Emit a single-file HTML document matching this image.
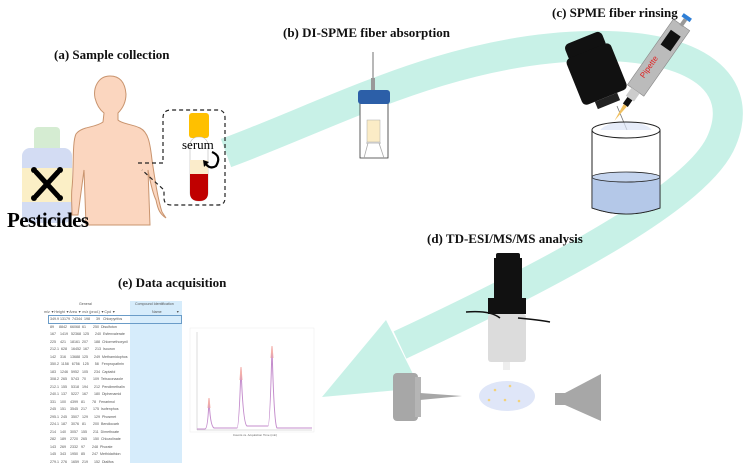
<!DOCTYPE html>
<html><head><meta charset="utf-8"><style>
body{margin:0;background:#fff;width:753px;height:472px;overflow:hidden;position:relative;font-family:"Liberation Serif",serif}
.lb{position:absolute;font-weight:bold;font-size:13px;color:#111;white-space:nowrap}
</style></head><body>
<svg width="753" height="472" style="position:absolute;left:0;top:0">
<path d="M226,153 C 330,115 450,48 590,46 C 700,44 745,85 722,140 C 700,195 560,270 400,345" fill="none" stroke="#c8f1e7" stroke-width="30"/>
<polygon points="322,397 386,320 420,388" fill="#c8f1e7"/>

<rect x="34" y="127" width="26" height="30" rx="4" fill="#d5ecd2"/>
<rect x="22" y="148" width="50" height="75" rx="8" fill="#d3dcf3"/>
<rect x="22" y="168" width="50" height="34" fill="#fbefc6"/>
<g stroke="#000" stroke-width="5" stroke-linecap="round"><line x1="36" y1="172" x2="58" y2="196"/><line x1="58" y1="172" x2="36" y2="196"/></g>
<g fill="#000"><circle cx="34" cy="170" r="3"/><circle cx="60" cy="170" r="3"/><circle cx="34" cy="198" r="3"/><circle cx="60" cy="198" r="3"/></g>

<path d="M110,76 C98,76 93,88 95,98 C97,106 100,110 104,113 L103,122 C95,128 82,126 76,134 C72,142 74,170 72,188 C71,196 72,205 72,215 L78,215 C80,200 82,185 84,170 L86,225 L150,225 L148,170 C150,180 152,192 156,200 C158,210 160,214 166,218 L162,212 C158,200 155,180 152,160 C150,142 148,132 140,128 C132,124 122,124 118,120 L118,113 C123,108 126,102 126,94 C125,82 120,76 110,76 Z" fill="#fbd6bf" stroke="#c9946e" stroke-width="1"/>

<path d="M138,163 L163,163 L163,118 Q163,110 171,110 L218,110 Q225,110 225,118 L225,198 Q225,205 218,205 L171,205 Q164,205 164,198 L164,190 L142,170" fill="none" stroke="#222" stroke-width="1.2" stroke-dasharray="4,3"/>
<rect x="189" y="113" width="20" height="25" rx="3" fill="#ffc000"/>
<rect x="190" y="137" width="18" height="64" rx="8" fill="#fff" stroke="#bbb" stroke-width="0.6"/>
<path d="M190,160 L208,160 L208,174 L190,174 Z" fill="#fbeccb"/>
<path d="M190,174 L208,174 L208,193 Q208,201 199,201 Q190,201 190,193 Z" fill="#c00000"/>
<path d="M212,152 Q222,156 216,166 Q210,170 205,163" fill="none" stroke="#000" stroke-width="2.2"/>
<polygon points="203,160 209,162 204,167" fill="#000"/>

<line x1="373" y1="52" x2="373" y2="142" stroke="#888" stroke-width="1.2"/>
<rect x="371" y="78" width="4" height="12" fill="#999"/>
<path d="M360,103 L388,103 L388,158 L360,158 Z" fill="#fff" stroke="#333" stroke-width="0.8"/>
<rect x="358" y="90" width="32" height="14" rx="3" fill="#2c5fa8"/>
<rect x="367" y="120" width="13" height="22" fill="#fbecc6" stroke="#aaa" stroke-width="0.5"/>
<path d="M366,143 L381,143 M368,143 L364,158 M379,143 L384,158" stroke="#aaa" stroke-width="0.8"/>

<g transform="translate(597,75) rotate(-22)">
<rect x="-20" y="-40" width="40" height="18" rx="5" fill="#111"/>
<rect x="-24" y="-26" width="48" height="50" rx="5" fill="#111"/>
<rect x="-12" y="24" width="24" height="8" fill="#222"/>
</g>
<line x1="617" y1="106" x2="627" y2="130" stroke="#777" stroke-width="0.8"/>
<g transform="translate(650,70) rotate(35)">
<rect x="-10" y="-55" width="20" height="80" fill="#bbb" stroke="#888" stroke-width="0.6"/>
<rect x="-6" y="-45" width="12" height="18" fill="#111"/>
<rect x="-2" y="-62" width="4" height="8" fill="#999"/>
<rect x="-5" y="-66" width="10" height="4" fill="#2f7fd6"/>
<rect x="-5" y="25" width="10" height="10" fill="#ccc"/>
<rect x="-3" y="35" width="6" height="8" fill="#111"/>
<polygon points="-2,43 2,43 0,62" fill="#f0c060"/>
<text x="2" y="0" transform="rotate(-90)" font-family="Liberation Sans,sans-serif" font-size="8" fill="#e02020" text-anchor="middle">Pipette</text>
</g>
<ellipse cx="626" cy="132" rx="26" ry="10" fill="#dbe4f7" opacity="0.7"/>
<path d="M592,130 L592,208 Q626,220 660,208 L660,130" fill="#fff" stroke="#222" stroke-width="1"/>
<path d="M592,177 Q626,187 660,177 L660,208 Q626,220 592,208 Z" fill="#b4c8e8" stroke="#222" stroke-width="0.8"/>
<ellipse cx="626" cy="177" rx="34" ry="5" fill="#c4d4ee" stroke="#222" stroke-width="0.8"/>
<ellipse cx="626" cy="130" rx="34" ry="8" fill="none" stroke="#222" stroke-width="1"/>

<rect x="496" y="253" width="24" height="8" rx="2" fill="#111"/>
<rect x="494" y="258" width="28" height="44" fill="#111"/>
<rect x="488" y="298" width="38" height="16" fill="#111"/>
<rect x="488" y="314" width="38" height="48" rx="3" fill="#dcdcdc"/>
<rect x="503" y="362" width="7" height="8" fill="#eee"/>
<path d="M466,312 Q490,310 500,318 M518,318 Q540,320 550,322" stroke="#111" stroke-width="1.5" fill="none"/>
<ellipse cx="507" cy="396" rx="28" ry="15" fill="#dfe6f8"/>
<g fill="#f3d27a"><circle cx="495" cy="390" r="1.3"/><circle cx="510" cy="386" r="1.3"/><circle cx="489" cy="400" r="1.3"/><circle cx="505" cy="400" r="1.3"/><circle cx="519" cy="401" r="1.3"/></g>
<rect x="393" y="373" width="25" height="48" rx="4" fill="#a7a7a7"/>
<rect x="415" y="377" width="6" height="40" fill="#b5b5b5"/>
<polygon points="420,393 462,396 420,400" fill="#a7a7a7"/>
<rect x="555" y="393" width="12" height="12" fill="#a7a7a7"/>
<polygon points="565,393 601,374 601,421 565,405" fill="#a7a7a7"/>

<rect x="190" y="328" width="124" height="104" fill="#fff" stroke="#eee" stroke-width="0.6"/>
<line x1="197" y1="332" x2="197" y2="430" stroke="#bbb" stroke-width="0.5"/>
<line x1="197" y1="430" x2="312" y2="430" stroke="#bbb" stroke-width="0.5"/>
<path d="M197,429 L205,429 Q208,429 209,398 Q210,426 214,428 L237,428 Q239,428 241,367 Q243,424 247,426 L268,426 Q270,426 272,346 Q274,424 277,428 L312,428" fill="none" stroke="#c48ccc" stroke-width="1"/>
<path d="M208,408 L209,398 L210,408 M240,380 L241,367 L242,380 M271,358 L272,346 L273,358" stroke="#f5b0a8" stroke-width="1" fill="none"/>
<text x="255" y="436" font-size="3" text-anchor="middle" fill="#666" font-family="Liberation Sans">Counts vs. Acquisition Time (min)</text>
</svg>

<div class="lb" style="left:54px;top:47px">(a) Sample collection</div>
<div class="lb" style="left:283px;top:25px">(b) DI-SPME fiber absorption</div>
<div class="lb" style="left:552px;top:5px">(c) SPME fiber rinsing</div>
<div class="lb" style="left:427px;top:231px">(d) TD-ESI/MS/MS analysis</div>
<div class="lb" style="left:118px;top:275px">(e) Data acquisition</div>
<div style="position:absolute;left:7px;top:208px;font-weight:bold;font-size:21px;letter-spacing:-0.6px">Pesticides</div>
<div style="position:absolute;left:182px;top:137px;font-size:13px">serum</div>

<div style="position:absolute;left:130px;top:301px;width:52px;height:162px;background:#d6ecfb"></div>
<div style="position:absolute;left:42px;top:301px;width:142px;font-family:'Liberation Sans',sans-serif;font-size:3.6px;color:#555;line-height:7.5px;white-space:nowrap">
<div style="position:relative;height:7.5px"><span style="position:absolute;left:37px">General</span><span style="position:absolute;left:93px">Compound Identification</span></div>
<div style="position:relative;height:7.5px"><span style="position:absolute;left:2px">m/z ▼Height ▼Area ▼ m/z (prod.) ▼Cpd ▼</span><span style="position:absolute;left:110px">Name</span><span style="position:absolute;left:134px">▼</span></div>
<pre style="margin:0;font-family:inherit;font-size:inherit;line-height:7.5px;padding-left:8px">349.9 13179  74344  198      39   Chlorpyrifos
89     8842   66068  61       250  Disulfoton
167    1419   52368  125      240  Esfenvalerate
225    421    18161  207      188  Chlormethoxynil
212.1  628    16452  167      213  Isouron
142    316    13688  125      249  Methamidophos
350.2  1158   6756   125      58   Fenpropathrin
183    1246   5952   105      234  Captafol
308.2  265    5743   70       109  Tebuconazole
212.1  155    5318   194      212  Pendimethalin
240.1  137    5227   167      180  Diphenamid
331    100    4399   81       78   Fenarimol
245    151    3545   217      175  Isofenphos
295.1  245    3507   129      129  Phosmet
224.1  187    3076   81       200  Bendiocarb
214    140    3057   155      211  Dimethoate
282    189    2720   265      150  Chlozolinate
143    269    2332   97       248  Phorate
145    343    1950   85       247  Methidathion
279.1  276    1659   219      152  Dialifos</pre>
</div>
<div style="position:absolute;left:48px;top:315px;width:132px;height:7px;border:1px solid #6a9cc8"></div>
</body></html>
